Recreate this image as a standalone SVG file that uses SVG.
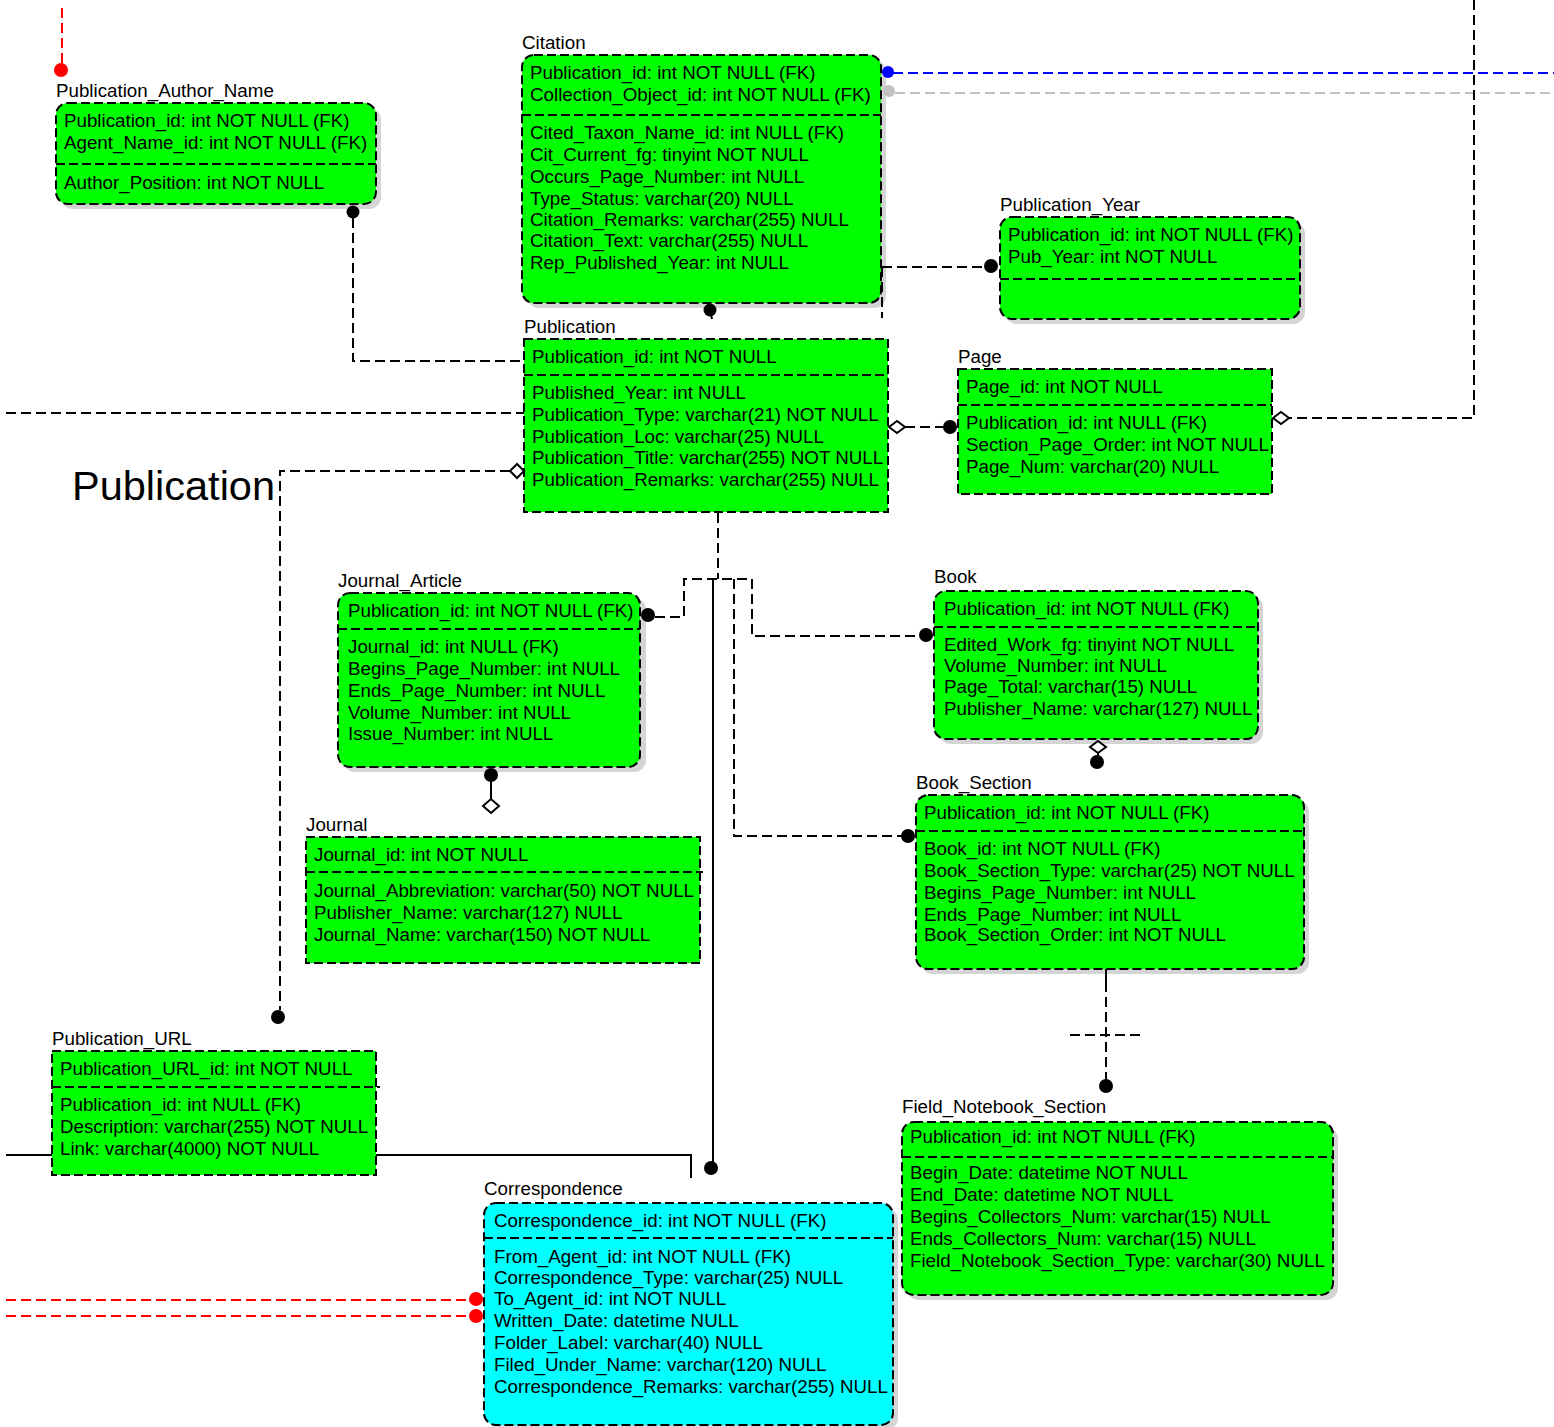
<svg xmlns="http://www.w3.org/2000/svg" width="1554" height="1427" viewBox="0 0 1554 1427">
<style>
text{font-family:"Liberation Sans",Arial,sans-serif;font-size:18.75px;fill:#000}
.big{font-size:41.5px}
.box{fill:#00ff00;stroke:#000;stroke-width:2;stroke-dasharray:9 4}
.cyan{fill:#00ffff}
.sh{fill:#d4d4d4;stroke:none}
.sep{stroke:#000;stroke-width:2;stroke-dasharray:9 4;fill:none}
.c{fill:none;stroke:#000;stroke-width:2;stroke-dasharray:10 5}
.s{fill:none;stroke:#000;stroke-width:2}
.red{fill:none;stroke:#ff0000;stroke-width:2;stroke-dasharray:10 5}
.blue{fill:none;stroke:#0000ff;stroke-width:2;stroke-dasharray:10 5}
.gray{fill:none;stroke:#c0c0c0;stroke-width:2;stroke-dasharray:10 5}
.dot{fill:#000}
.dia{fill:#fff;stroke:#000;stroke-width:2}
</style>
<rect width="1554" height="1427" fill="#fff"/>
<text class="big" x="72" y="500">Publication</text>
<g id="Citation">
<text x="522" y="49">Citation</text>
<rect class="sh" x="527" y="60" width="359" height="248" rx="12"/>
<rect class="box" x="522" y="55" width="359" height="248" rx="12"/>
<path class="sep" d="M522 115H881"/>
<text x="530" y="79">Publication_id: int NOT NULL (FK)</text>
<text x="530" y="101">Collection_Object_id: int NOT NULL (FK)</text>
<text x="530" y="139">Cited_Taxon_Name_id: int NULL (FK)</text>
<text x="530" y="161">Cit_Current_fg: tinyint NOT NULL</text>
<text x="530" y="183">Occurs_Page_Number: int NULL</text>
<text x="530" y="205">Type_Status: varchar(20) NULL</text>
<text x="530" y="226">Citation_Remarks: varchar(255) NULL</text>
<text x="530" y="247">Citation_Text: varchar(255) NULL</text>
<text x="530" y="269">Rep_Published_Year: int NULL</text>
</g>
<g id="Publication_Author_Name">
<text x="56" y="97">Publication_Author_Name</text>
<rect class="sh" x="61" y="108" width="320" height="101" rx="12"/>
<rect class="box" x="56" y="103" width="320" height="101" rx="12"/>
<path class="sep" d="M56 164H376"/>
<text x="64" y="127">Publication_id: int NOT NULL (FK)</text>
<text x="64" y="149">Agent_Name_id: int NOT NULL (FK)</text>
<text x="64" y="189">Author_Position: int NOT NULL</text>
</g>
<g id="Publication_Year">
<text x="1000" y="211">Publication_Year</text>
<rect class="sh" x="1005" y="222" width="300" height="102" rx="12"/>
<rect class="box" x="1000" y="217" width="300" height="102" rx="12"/>
<path class="sep" d="M1000 279H1300"/>
<text x="1008" y="241">Publication_id: int NOT NULL (FK)</text>
<text x="1008" y="263">Pub_Year: int NOT NULL</text>
</g>
<g id="Publication">
<text x="524" y="333">Publication</text>
<rect class="box" x="524" y="339" width="364" height="173"/>
<path class="sep" d="M524 375H888"/>
<text x="532" y="363">Publication_id: int NOT NULL</text>
<text x="532" y="399">Published_Year: int NULL</text>
<text x="532" y="421">Publication_Type: varchar(21) NOT NULL</text>
<text x="532" y="443">Publication_Loc: varchar(25) NULL</text>
<text x="532" y="464">Publication_Title: varchar(255) NOT NULL</text>
<text x="532" y="486">Publication_Remarks: varchar(255) NULL</text>
</g>
<g id="Page">
<text x="958" y="363">Page</text>
<rect class="box" x="958" y="369" width="314" height="125"/>
<path class="sep" d="M958 405H1272"/>
<text x="966" y="393">Page_id: int NOT NULL</text>
<text x="966" y="429">Publication_id: int NULL (FK)</text>
<text x="966" y="451">Section_Page_Order: int NOT NULL</text>
<text x="966" y="473">Page_Num: varchar(20) NULL</text>
</g>
<g id="Journal_Article">
<text x="338" y="587">Journal_Article</text>
<rect class="sh" x="343" y="598" width="303" height="174" rx="12"/>
<rect class="box" x="338" y="593" width="302" height="174" rx="12"/>
<path class="sep" d="M338 629H640"/>
<text x="348" y="617">Publication_id: int NOT NULL (FK)</text>
<text x="348" y="653">Journal_id: int NULL (FK)</text>
<text x="348" y="675">Begins_Page_Number: int NULL</text>
<text x="348" y="697">Ends_Page_Number: int NULL</text>
<text x="348" y="719">Volume_Number: int NULL</text>
<text x="348" y="740">Issue_Number: int NULL</text>
</g>
<g id="Book">
<text x="934" y="583">Book</text>
<rect class="sh" x="939" y="596" width="324" height="148" rx="12"/>
<rect class="box" x="934" y="591" width="324" height="148" rx="12"/>
<path class="sep" d="M934 627H1258"/>
<text x="944" y="615">Publication_id: int NOT NULL (FK)</text>
<text x="944" y="651">Edited_Work_fg: tinyint NOT NULL</text>
<text x="944" y="672">Volume_Number: int NULL</text>
<text x="944" y="693">Page_Total: varchar(15) NULL</text>
<text x="944" y="715">Publisher_Name: varchar(127) NULL</text>
</g>
<g id="Book_Section">
<text x="916" y="789">Book_Section</text>
<rect class="sh" x="921" y="800" width="388" height="174" rx="12"/>
<rect class="box" x="916" y="795" width="388" height="174" rx="12"/>
<path class="sep" d="M916 831H1304"/>
<text x="924" y="819">Publication_id: int NOT NULL (FK)</text>
<text x="924" y="855">Book_id: int NOT NULL (FK)</text>
<text x="924" y="877">Book_Section_Type: varchar(25) NOT NULL</text>
<text x="924" y="899">Begins_Page_Number: int NULL</text>
<text x="924" y="921">Ends_Page_Number: int NULL</text>
<text x="924" y="941">Book_Section_Order: int NOT NULL</text>
</g>
<g id="Journal">
<text x="306" y="831">Journal</text>
<rect class="box" x="306" y="837" width="394" height="126"/>
<path class="sep" d="M306 872H703"/>
<text x="314" y="861">Journal_id: int NOT NULL</text>
<text x="314" y="897">Journal_Abbreviation: varchar(50) NOT NULL</text>
<text x="314" y="919">Publisher_Name: varchar(127) NULL</text>
<text x="314" y="941">Journal_Name: varchar(150) NOT NULL</text>
</g>
<g id="Publication_URL">
<text x="52" y="1045">Publication_URL</text>
<rect class="box" x="52" y="1051" width="324" height="124"/>
<path class="sep" d="M52 1087H380"/>
<text x="60" y="1075">Publication_URL_id: int NOT NULL</text>
<text x="60" y="1111">Publication_id: int NULL (FK)</text>
<text x="60" y="1133">Description: varchar(255) NOT NULL</text>
<text x="60" y="1155">Link: varchar(4000) NOT NULL</text>
</g>
<g id="Field_Notebook_Section">
<text x="902" y="1113">Field_Notebook_Section</text>
<rect class="sh" x="907" y="1127" width="431" height="173" rx="12"/>
<rect class="box" x="902" y="1122" width="431" height="173" rx="12"/>
<path class="sep" d="M902 1157H1333"/>
<text x="910" y="1143">Publication_id: int NOT NULL (FK)</text>
<text x="910" y="1179">Begin_Date: datetime NOT NULL</text>
<text x="910" y="1201">End_Date: datetime NOT NULL</text>
<text x="910" y="1223">Begins_Collectors_Num: varchar(15) NULL</text>
<text x="910" y="1245">Ends_Collectors_Num: varchar(15) NULL</text>
<text x="910" y="1267">Field_Notebook_Section_Type: varchar(30) NULL</text>
</g>
<g id="Correspondence">
<text x="484" y="1195">Correspondence</text>
<rect class="sh" x="489" y="1208" width="409" height="222" rx="12"/>
<rect class="box cyan" x="484" y="1203" width="409" height="222" rx="12"/>
<path class="sep" d="M484 1238H893"/>
<text x="494" y="1227">Correspondence_id: int NOT NULL (FK)</text>
<text x="494" y="1263">From_Agent_id: int NOT NULL (FK)</text>
<text x="494" y="1284">Correspondence_Type: varchar(25) NULL</text>
<text x="494" y="1305">To_Agent_id: int NOT NULL</text>
<text x="494" y="1327">Written_Date: datetime NULL</text>
<text x="494" y="1349">Folder_Label: varchar(40) NULL</text>
<text x="494" y="1371">Filed_Under_Name: varchar(120) NULL</text>
<text x="494" y="1393">Correspondence_Remarks: varchar(255) NULL</text>
</g>
<g id="connectors">
<path class="red" d="M62 8V64"/>
<circle cx="61" cy="70" r="7" fill="#ff0000"/>
<path class="blue" d="M893 73H1554"/>
<circle cx="888" cy="72" r="6" fill="#0000ff"/>
<path class="gray" d="M895 93H1554"/>
<circle cx="889" cy="91" r="6" fill="#c0c0c0"/>
<path class="c" d="M1474 0V418H1289"/>
<path class="dia" d="M1273 418L1281 412L1289 418L1281 424Z"/>
<path class="c" d="M353 218V361H524"/>
<circle class="dot" cx="353" cy="212" r="6.5"/>
<path class="s" d="M710 310L712 319"/>
<circle class="dot" cx="710" cy="310" r="6.5"/>
<path class="c" d="M882 267H986"/>
<path class="c" d="M882 267V318"/>
<circle class="dot" cx="991" cy="266" r="7"/>
<path class="c" d="M6 413H524"/>
<path class="c" d="M510 471H280V1010"/>
<path class="dia" d="M510 471L517 464L524 471L517 478Z"/>
<circle class="dot" cx="278" cy="1017" r="7"/>
<path class="c" d="M905 427H944"/>
<path class="dia" d="M889 427L897 421L905 427L897 433Z"/>
<circle class="dot" cx="950" cy="427" r="7"/>
<path class="c" d="M718 513V579"/>
<path class="c" d="M655 617H684V579H752V636H920"/>
<circle class="dot" cx="648" cy="615" r="7"/>
<circle class="dot" cx="926" cy="635" r="7"/>
<path class="c" d="M734 579V836H902"/>
<circle class="dot" cx="908" cy="836" r="7"/>
<path class="s" d="M713 579V1162"/>
<circle class="dot" cx="711" cy="1168" r="7"/>
<path class="s" d="M491 782V799"/>
<circle class="dot" cx="491" cy="775" r="7"/>
<path class="dia" d="M483 806L491 799L499 806L491 813Z"/>
<path class="s" d="M1098 752V758"/>
<path class="dia" d="M1090 747L1098 741L1106 747L1098 753Z"/>
<circle class="dot" cx="1097" cy="762" r="7"/>
<path class="s" d="M1106 969V982"/>
<path class="c" d="M1106 982V1080"/>
<path class="c" d="M1070 1035H1141"/>
<circle class="dot" cx="1106" cy="1086" r="7"/>
<path class="s" d="M6 1155H52"/>
<path class="s" d="M376 1155H691V1178"/>
<path class="red" d="M6 1300H470"/>
<circle cx="476" cy="1299" r="7" fill="#ff0000"/>
<path class="red" d="M6 1316H470"/>
<circle cx="476" cy="1316" r="7" fill="#ff0000"/>
</g>
</svg>
